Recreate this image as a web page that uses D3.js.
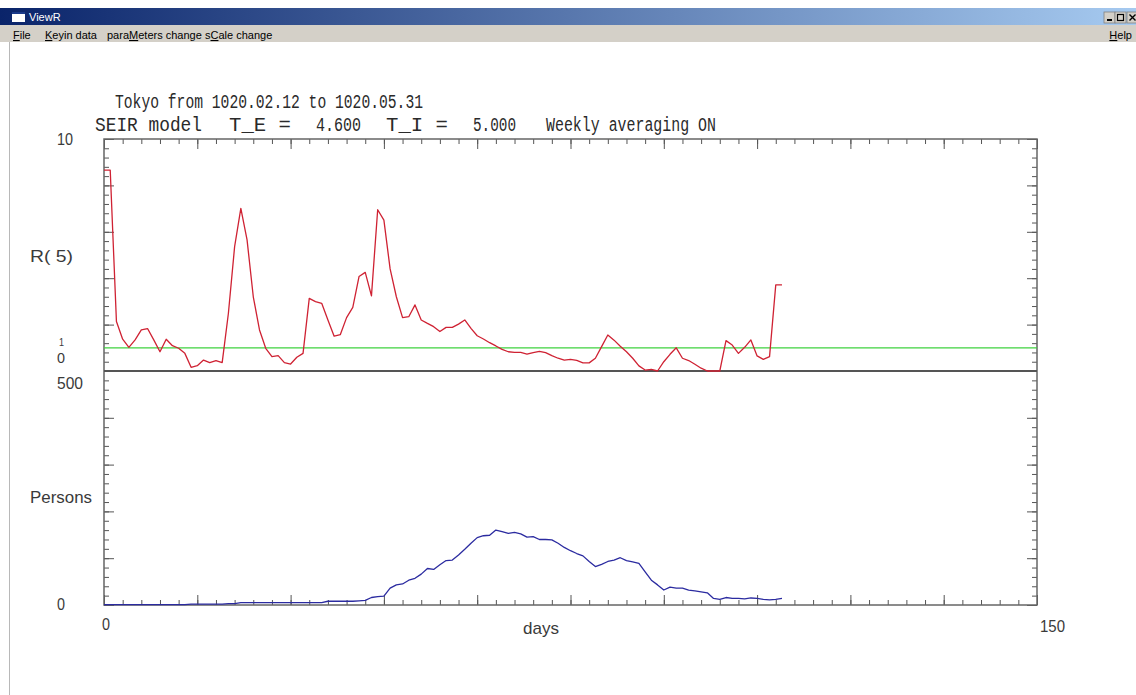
<!DOCTYPE html>
<html>
<head>
<meta charset="utf-8">
<script src="https://cdn.jsdelivr.net/npm/d3@7"></script>
<style>
  html, body { margin: 0; padding: 0; background: #fff; }
  svg { display: block; }
</style>
</head>
<body>
<svg id="chart" width="1136" height="695"></svg>
<script>
// Effective reproduction number R(5), one value per day from 1020.02.12
const rValues = [
  8.66, 8.66, 2.13, 1.37, 1.02, 1.34, 1.77, 1.83, 1.34, 0.83,
  1.37, 1.09, 0.98, 0.76, 0.16, 0.23, 0.47, 0.36, 0.45, 0.36,
  2.49, 5.36, 7.01, 5.65, 3.20, 1.77, 0.98, 0.62, 0.66, 0.36,
  0.30, 0.59, 0.76, 3.13, 2.99, 2.92, 2.20, 1.50, 1.57, 2.30,
  2.74, 4.07, 4.25, 3.24, 6.95, 6.50, 4.40, 3.20, 2.30, 2.34,
  2.85, 2.20, 2.05, 1.91, 1.70, 1.88, 1.88, 2.02, 2.20, 1.84,
  1.52, 1.38, 1.22, 1.08, 0.93, 0.83, 0.80, 0.80, 0.73, 0.79,
  0.85, 0.79, 0.66, 0.55, 0.47, 0.50, 0.46, 0.35, 0.35, 0.55,
  1.05, 1.55, 1.33, 1.07, 0.83, 0.55, 0.22, 0.04, 0.07, 0.00,
  0.40, 0.72, 1.00, 0.55, 0.45, 0.29, 0.12, 0.00, 0.00, 0.00,
  1.31, 1.12, 0.76, 1.02, 1.34, 0.65, 0.50, 0.62, 3.71, 3.71
];

// Weekly-averaged new cases (persons), same days
const personValues = [
  1, 1, 1, 1, 1, 1, 1, 1, 1, 1,
  1, 1, 1, 1, 2, 2, 2, 2, 2, 2,
  3, 3, 5, 5, 5, 5, 5, 5, 5, 5,
  5, 5, 5, 5, 5, 5, 8, 8, 8, 8,
  8, 9, 10, 16, 18, 19, 36, 43, 45, 53,
  57, 66, 78, 76, 86, 95, 96, 107, 119, 132,
  144, 148, 149, 160, 157, 153, 155, 152, 145, 146,
  140, 140, 139, 132, 123, 116, 110, 105, 93, 82,
  87, 93, 96, 101, 95, 92, 89, 71, 53, 43,
  32, 38, 36, 36, 32, 30, 28, 26, 14, 12,
  16, 14, 14, 13, 15, 14, 12, 11, 12, 14
];

const rReference = 1;
const dayDomain = [0, 150];
const rDomain = [0, 10];
const personDomain = [0, 500];

const headerTitle = "Tokyo from 1020.02.12 to 1020.05.31";
const headerModel = [
  { text: "SEIR model", x: 95, w: 107 },
  { text: "T_E =", x: 229, w: 62 },
  { text: "4.600", x: 316, w: 45 },
  { text: "T_I =", x: 386, w: 62 },
  { text: "5.000", x: 473, w: 43 },
  { text: "Weekly averaging ON", x: 546, w: 170 }
];
const menuItems = [
  { pre: "", key: "F", post: "ile", x: 13 },
  { pre: "", key: "K", post: "eyin data", x: 45 },
  { pre: "para", key: "M", post: "eters change", x: 107 },
  { pre: "s", key: "C", post: "ale change", x: 205 }
];

const svg = d3.select("#chart");

// ---- window chrome ----
const defs = svg.append("defs");
const grad = defs.append("linearGradient").attr("id", "caption").attr("x1", "0").attr("x2", "1");
grad.append("stop").attr("offset", "0").attr("stop-color", "#0a246a");
grad.append("stop").attr("offset", "1").attr("stop-color", "#a6caf0");

svg.append("rect").attr("x", 0).attr("y", 8).attr("width", 1136).attr("height", 17).attr("fill", "url(#caption)");
svg.append("rect").attr("x", 0).attr("y", 25).attr("width", 1136).attr("height", 17).attr("fill", "#d4d0c8");
svg.append("line").attr("x1", 9.5).attr("x2", 9.5).attr("y1", 42).attr("y2", 695).attr("stroke", "#b8b8b8");

// caption icon + title
svg.append("rect").attr("x", 12).attr("y", 12).attr("width", 13).attr("height", 10).attr("fill", "#fff");
svg.append("rect").attr("x", 12).attr("y", 12).attr("width", 13).attr("height", 2).attr("fill", "#1a3a8a");
svg.append("text").attr("x", 29).attr("y", 21).attr("fill", "#fff")
  .style("font", "11px 'Liberation Sans', Arial, sans-serif").text("ViewR");

// caption buttons
const btns = [{ x: 1104, g: "min" }, { x: 1115, g: "max" }, { x: 1127, g: "close" }];
btns.forEach(b => {
  const g = svg.append("g").attr("transform", `translate(${b.x},12)`);
  g.append("rect").attr("width", 11).attr("height", 11).attr("fill", "#d4d0c8")
    .attr("stroke", "#808080").attr("stroke-width", 0.8);
  if (b.g === "min") g.append("rect").attr("x", 3).attr("y", 7).attr("width", 5).attr("height", 2).attr("fill", "#000");
  if (b.g === "max") g.append("rect").attr("x", 2.5).attr("y", 2.5).attr("width", 6).attr("height", 6)
    .attr("fill", "none").attr("stroke", "#000").attr("stroke-width", 1.2);
  if (b.g === "close") g.append("path").attr("d", "M2.5,2.5L8.5,8.5M8.5,2.5L2.5,8.5").attr("stroke", "#000").attr("stroke-width", 1.4);
});

// menu
const menuFont = "11px 'Liberation Sans', Arial, sans-serif";
menuItems.forEach(m => {
  const t = svg.append("text").attr("x", m.x).attr("y", 39).style("font", menuFont).attr("fill", "#000");
  t.append("tspan").text(m.pre);
  t.append("tspan").style("text-decoration", "underline").text(m.key);
  t.append("tspan").text(m.post);
});
const help = svg.append("text").attr("x", 1132).attr("y", 39).attr("text-anchor", "end").style("font", menuFont);
help.append("tspan").style("text-decoration", "underline").text("H");
help.append("tspan").text("elp");

// ---- header ----
const monoFont = "20px 'Liberation Mono', 'DejaVu Sans Mono', monospace";
svg.append("text").attr("x", 115).attr("y", 108).style("font", monoFont).attr("fill", "#2a2a2a")
  .attr("textLength", 308).attr("lengthAdjust", "spacingAndGlyphs").text(headerTitle);
headerModel.forEach(h => {
  svg.append("text").attr("x", h.x).attr("y", 131).style("font", monoFont).attr("fill", "#2a2a2a")
    .attr("textLength", h.w).attr("lengthAdjust", "spacingAndGlyphs").text(h.text);
});

// ---- scales ----
const x = d3.scaleLinear().domain(dayDomain).range([104, 1037]);
const yR = d3.scaleLinear().domain(rDomain).range([371, 139]);
const yP = d3.scaleLinear().domain(personDomain).range([605, 371]);

const minorDays = d3.range(0, 151, 3);
const majorDays = d3.range(0, 151, 15);
const minorR = d3.range(0, 10.01, 0.4);
const majorR = d3.range(0, 10.01, 2);
const minorP = d3.range(0, 501, 20);
const majorP = d3.range(0, 501, 100);

const tickColor = "#555";
function ticks(axis, transform) {
  const g = svg.append("g").attr("transform", transform).call(axis);
  g.select(".domain").remove();
  g.selectAll("text").remove();
  g.selectAll("line").attr("stroke", tickColor).attr("stroke-width", 1);
}
// top & bottom edges
ticks(d3.axisTop(x).tickValues(minorDays).tickSize(-5), "translate(0,139)");
ticks(d3.axisTop(x).tickValues(majorDays).tickSize(-10), "translate(0,139)");
ticks(d3.axisBottom(x).tickValues(minorDays).tickSize(-5), "translate(0,605)");
ticks(d3.axisBottom(x).tickValues(majorDays).tickSize(-10), "translate(0,605)");
// left & right edges, upper panel (R)
ticks(d3.axisLeft(yR).tickValues(minorR).tickSize(-5), "translate(104,0)");
ticks(d3.axisLeft(yR).tickValues(majorR).tickSize(-10), "translate(104,0)");
ticks(d3.axisRight(yR).tickValues(minorR).tickSize(-5), "translate(1037,0)");
ticks(d3.axisRight(yR).tickValues(majorR).tickSize(-10), "translate(1037,0)");
// left & right edges, lower panel (persons)
ticks(d3.axisLeft(yP).tickValues(minorP).tickSize(-5), "translate(104,0)");
ticks(d3.axisLeft(yP).tickValues(majorP).tickSize(-10), "translate(104,0)");
ticks(d3.axisRight(yP).tickValues(minorP).tickSize(-5), "translate(1037,0)");
ticks(d3.axisRight(yP).tickValues(majorP).tickSize(-10), "translate(1037,0)");

// frame and panel divider
svg.append("rect").attr("x", x(0)).attr("y", yR(10)).attr("width", x(150) - x(0)).attr("height", yP(0) - yR(10))
  .attr("fill", "none").attr("stroke", "#666").attr("stroke-width", 1.5);
svg.append("line").attr("x1", x(0)).attr("x2", x(150)).attr("y1", yR(0)).attr("y2", yR(0))
  .attr("stroke", "#555").attr("stroke-width", 2);

// R = 1 reference
svg.append("line").attr("x1", x(0)).attr("x2", x(150)).attr("y1", yR(rReference)).attr("y2", yR(rReference))
  .attr("stroke", "#3fd23f").attr("stroke-width", 1.3);

// series
const rLine = d3.line().x((d, i) => x(i)).y(d => yR(d));
const pLine = d3.line().x((d, i) => x(i)).y(d => yP(d));
svg.append("path").datum(rValues).attr("d", rLine).attr("fill", "none")
  .attr("stroke", "#cf2233").attr("stroke-width", 1.3).attr("stroke-linejoin", "round");
svg.append("path").datum(personValues).attr("d", pLine).attr("fill", "none")
  .attr("stroke", "#2b2ba0").attr("stroke-width", 1.3).attr("stroke-linejoin", "round");

// ---- axis labels ----
const labelColor = "#3a3a3a";
function label(txt, lx, ly, w, size) {
  const t = svg.append("text").attr("x", lx).attr("y", ly)
    .style("font", `${size || 17}px 'Liberation Sans', Arial, sans-serif`).attr("fill", labelColor).text(txt);
  if (w) t.attr("textLength", w).attr("lengthAdjust", "spacingAndGlyphs");
  return t;
}
label(String(rDomain[1]), 57, 145, 16);
label("R( 5)", 30, 262, 43);
label(String(rReference), 59, 346, 5, 10);
label(String(rDomain[0]), 57, 363, 8, 15);
label(String(personDomain[1]), 57, 389, 26);
label("Persons", 30, 503, 62);
label(String(personDomain[0]), 57, 610, 8);
label(String(dayDomain[0]), 102, 630, 8);
label("days", 523, 634, 36);
label(String(dayDomain[1]), 1040, 632, 25);
</script>
</body>
</html>
